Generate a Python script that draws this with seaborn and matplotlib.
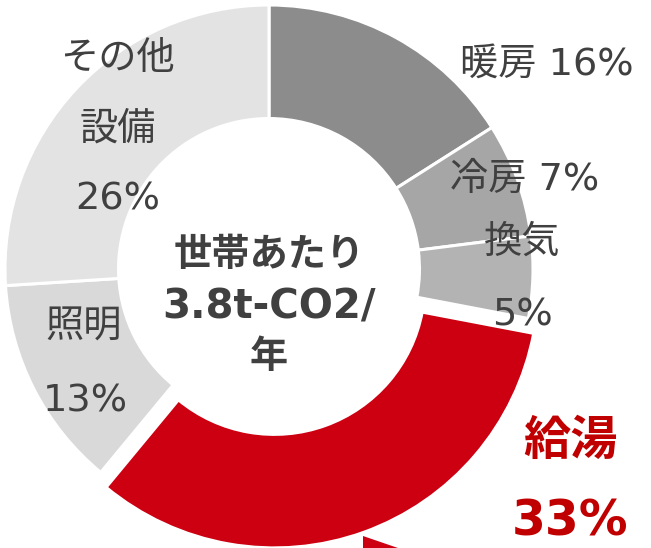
import matplotlib.pyplot as plt
import seaborn as sns
from matplotlib.patches import Polygon

# household CO2 breakdown (%)
categories = ["暖房", "冷房", "換気", "給湯", "照明", "その他設備"]
shares = [16, 7, 5, 33, 13, 26]
colors = ["#8c8c8c", "#a6a6a6", "#b3b3b3", "#cc0011", "#d9d9d9", "#e3e3e3"]
center_lines = ["世帯あたり", "3.8t-CO2/", "年"]

W, H = 651, 548
CX, CY, R = 269, 269, 264  # donut centre / radius in pixels


def px(x, y):
    # pixel position -> data coords (radius 1 = R px)
    return (x - CX) / R, (CY - y) / R


sns.set_theme(style="white")
# latin glyphs from DejaVu (wide, like the original), kanji/kana from Noto CJK
fam = ['DejaVu Sans', 'Noto Sans CJK JP']
plt.rcParams['font.family'] = fam

fig = plt.figure(figsize=(W / 100, H / 100), dpi=100)
ax = fig.add_axes([0, 0, 1, 1])

explode = [0.06 if c == "給湯" else 0 for c in categories]
wedges, _ = ax.pie(
    shares,
    colors=colors,
    startangle=90,
    counterclock=False,
    explode=explode,
    radius=1,
    wedgeprops=dict(width=0.43, edgecolor="white", linewidth=2.2),
)

ax.set_xlim(-CX / R, (W - CX) / R)
ax.set_ylim(-(H - CY) / R, CY / R)
ax.set_aspect("equal")
ax.axis("off")

grey = "#404040"
red = "#c00000"

# label positions (pixel centres)
plain = [
    (f"{categories[0]} {shares[0]}%", 547, 65),
    (f"{categories[1]} {shares[1]}%", 525, 180),
    (categories[2], 522, 243),
    (f"{shares[2]}%", 522, 315),
    (categories[4], 84, 328),
    (f"{shares[4]}%", 85, 401),
    ("その他", 117, 59),
    ("設備", 118, 130),
    (f"{shares[5]}%", 118, 200),
]
for txt, x, y in plain:
    ax.text(*px(x, y), txt, ha="center", va="center", fontsize=27.5, color=grey)

ax.text(*px(570, 442), categories[3], ha="center", va="center", fontsize=34,
        fontweight="bold", color=red)
ax.text(*px(570, 522), f"{shares[3]}%", ha="center", va="center", fontsize=35,
        fontweight="bold", color=red)

for line, y, fs in zip(center_lines, [256, 307, 358], [27.5, 29, 27.5]):
    ax.text(*px(269, y), line, ha="center", va="center", fontsize=fs,
            fontweight="bold", color=grey)

# tip of the arrow poking in at the bottom edge
tri = Polygon([px(363, 536), px(398, 548), px(363, 548)], closed=True,
              facecolor="#cc0011", edgecolor="none")
ax.add_patch(tri)

fig.savefig("out.png", dpi=100)
